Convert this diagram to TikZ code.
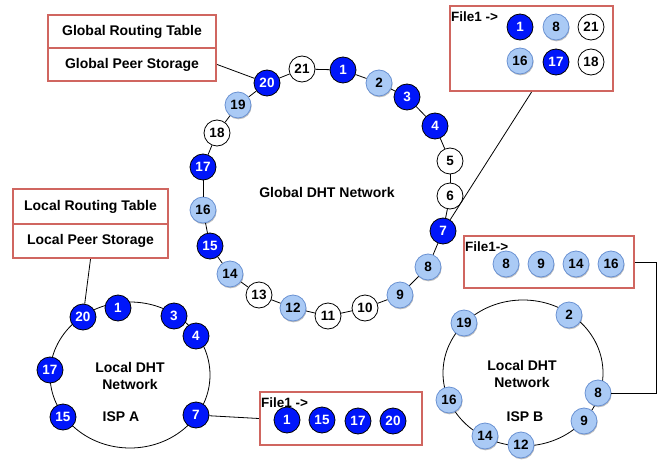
\documentclass[tikz,border=0pt]{standalone}
\usepackage{fontspec}
\setmainfont{Liberation Sans}
\usetikzlibrary{shadows}
\definecolor{dkblue}{RGB}{0,22,250}
\definecolor{ltblue}{RGB}{170,202,245}
\definecolor{ltedge}{RGB}{105,145,210}
\definecolor{boxred}{RGB}{208,102,96}
\tikzset{
  pnode/.style={circle,minimum size=26pt,inner sep=0pt,font=\fontsize{13.5}{13.5}\selectfont\bfseries},
  dk/.style={pnode,draw=black,line width=0.8pt,fill=dkblue,text=white},
  lt/.style={pnode,draw=ltedge,line width=0.8pt,fill=ltblue,text=black,
     drop shadow={shadow xshift=0.6pt,shadow yshift=-1.3pt,fill=black,opacity=0.25}},
  wh/.style={pnode,draw=black,line width=0.8pt,fill=white,text=black},
  redbox/.style={draw=boxred,line width=2.3pt,rectangle,inner sep=0pt},
  lbl/.style={font=\fontsize{14}{14}\selectfont\bfseries,inner sep=0pt},
  ftxt/.style={font=\fontsize{13.5}{13.5}\selectfont\bfseries,inner sep=0pt,anchor=west},
  ring/.style={line width=0.8pt,black},
}
\begin{document}
\begin{tikzpicture}[x=1pt,y=-1pt]
\useasboundingbox (0,0) rectangle (661,460);

% ---- boxes
\node[redbox,minimum width=168pt,minimum height=33pt] (gRT) at (132,31.5) {};
\node[lbl] at (gRT) {Global Routing Table};
\node[redbox,minimum width=168pt,minimum height=33pt] (gPS) at (132,64.5) {};
\node[lbl] at (gPS) {Global Peer Storage};

\node[redbox,minimum width=155pt,minimum height=35pt] (lRT) at (90.5,206.5) {};
\node[lbl] at (lRT) {Local Routing Table};
\node[redbox,minimum width=155pt,minimum height=34pt] (lPS) at (90.5,241) {};
\node[lbl] at (lPS) {Local Peer Storage};

\node[redbox,minimum width=163pt,minimum height=85pt] (fileG) at (531.5,48.5) {};
\node[redbox,minimum width=170pt,minimum height=52pt] (fileB) at (549,262) {};
\node[redbox,minimum width=162pt,minimum height=53pt] (fileA) at (341,418.5) {};

\node[ftxt] (fG) at (451,17) {File1 ->};
\node[ftxt] (fB) at (465,247) {File1->};
\node[ftxt] (fA) at (261,403) {File1 ->};

% ---- global ring
\node[dk] (g1) at (343,70) {1};
\node[lt] (g2) at (379,83) {2};
\node[dk] (g3) at (407,97) {3};
\node[dk] (g4) at (435,126) {4};
\node[wh] (g5) at (450,161) {5};
\node[wh] (g6) at (450,196) {6};
\node[dk] (g7) at (443,231) {7};
\node[lt] (g8) at (428,267) {8};
\node[lt] (g9) at (400,295) {9};
\node[wh] (g10) at (365,308) {10};
\node[wh] (g11) at (328,316) {11};
\node[lt] (g12) at (293,308) {12};
\node[wh] (g13) at (259,295) {13};
\node[lt] (g14) at (230,274) {14};
\node[dk] (g15) at (210,246) {15};
\node[lt] (g16) at (203,210) {16};
\node[dk] (g17) at (203,167) {17};
\node[wh] (g18) at (217,133) {18};
\node[lt] (g19) at (238,105) {19};
\node[dk] (g20) at (267,83) {20};
\node[wh] (g21) at (302,69) {21};
\foreach \a/\b in {1/2,2/3,3/4,4/5,5/6,6/7,7/8,8/9,9/10,10/11,11/12,12/13,13/14,14/15,15/16,16/17,17/18,18/19,19/20,20/21,21/1}
  \draw[ring] (g\a) -- (g\b);
\node[lbl] (gTitle) at (327,192) {Global DHT Network};

% ---- file box global contents
\node[dk] (fg1) at (520,27) {1};
\node[lt] (fg8) at (556,27) {8};
\node[wh] (fg21) at (591,27) {21};
\node[lt] (fg16) at (520,61) {16};
\node[dk] (fg17) at (556,62) {17};
\node[wh] (fg18) at (591,62) {18};

% ---- local ring A
\draw[ring] (130,375) ellipse [x radius=80, y radius=73];
\node[dk] (a20) at (83,317) {20};
\node[dk] (a1) at (118,308) {1};
\node[dk] (a3) at (174,316) {3};
\node[dk] (a4) at (196,336) {4};
\node[dk] (a17) at (50,370) {17};
\node[dk] (a15) at (63,417) {15};
\node[dk] (a7) at (196,415) {7};
\node[lbl,align=center,font=\fontsize{14}{16.5}\selectfont\bfseries] (aTitle) at (130,376) {Local DHT\\Network};
\node[lbl] (aISP) at (121,417) {ISP A};

% ---- file box A contents
\node[dk] (fa1) at (287,420) {1};
\node[dk] (fa15) at (322,420) {15};
\node[dk] (fa17) at (358,421) {17};
\node[dk] (fa20) at (393,421) {20};

% ---- local ring B
\draw[ring] (523,373) ellipse [x radius=80, y radius=73];
\node[lt] (b19) at (464,323) {19};
\node[lt] (b2) at (569,315) {2};
\node[lt] (b8) at (598,393) {8};
\node[lt] (b9) at (584,421) {9};
\node[lt] (b12) at (521,445) {12};
\node[lt] (b14) at (485,436) {14};
\node[lt] (b16) at (449,400) {16};
\node[lbl,align=center,font=\fontsize{14}{16.5}\selectfont\bfseries] (bTitle) at (522,374) {Local DHT\\Network};
\node[lbl] (bISP) at (525,417) {ISP B};

% ---- file box B contents
\node[lt] (fb8) at (506,264) {8};
\node[lt] (fb9) at (541,264) {9};
\node[lt] (fb14) at (576,264) {14};
\node[lt] (fb16) at (611,264) {16};

% ---- connectors
\draw[ring] (gPS.east) -- (g20);
\draw[ring] (lPS.south) -- (a20);
\draw[ring] (fileG.south) -- (g7);
\draw[ring] (a7) -- (fileA.west);
\draw[ring] (fileB.east) -- ++(21,0) |- (b8);
\end{tikzpicture}
\end{document}
